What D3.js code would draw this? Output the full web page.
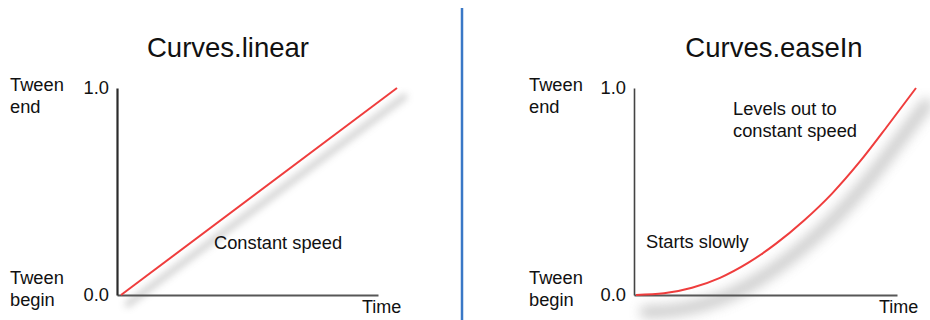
<!DOCTYPE html>
<html>
<head>
<meta charset="utf-8">
<script src="https://cdn.jsdelivr.net/npm/d3@7"></script>
<style>
  html, body { margin: 0; padding: 0; background: #ffffff; }
  svg { display: block; font-family: "Liberation Sans", Arial, Helvetica, sans-serif; }
</style>
</head>
<body>
<svg id="chart" width="930" height="320"></svg>
<script>
// ---------- data ----------
const panelTitles = ["Curves.linear", "Curves.easeIn"];
const yTickValues = [0, 1];
const yEndLabel = ["Tween", "end"];
const yBeginLabel = ["Tween", "begin"];
const xAxisLabel = "Time";

const linearTime  = [0, 1];
const linearValue = [0, 1];

const easeInTime  = [0, 0.1, 0.2, 0.3, 0.4, 0.5, 0.6, 0.7, 0.8, 0.9, 1.0];
const easeInValue = [0, 0.008, 0.035, 0.083, 0.155, 0.248, 0.36, 0.49, 0.645, 0.82, 1.0];

const linearNotes = [["Constant speed"]];
const easeInNotes = [["Levels out to", "constant speed"], ["Starts slowly"]];

const timeAxisExtent = [-0.012, 0.93];

// ---------- layout ----------
const svg = d3.select("#chart");
const defs = svg.append("defs");
defs.append("filter").attr("id", "blurS").attr("x", "-20%").attr("y", "-20%").attr("width", "140%").attr("height", "140%")
  .append("feGaussianBlur").attr("stdDeviation", 3.5);
defs.append("filter").attr("id", "blurL").attr("x", "-20%").attr("y", "-20%").attr("width", "140%").attr("height", "140%")
  .append("feGaussianBlur").attr("stdDeviation", 6);

const y = d3.scaleLinear().domain([0, 1]).range([295, 88]);

const panels = [
  {
    title: panelTitles[0], titleX: 228, labelX: 10,
    x: d3.scaleLinear().domain([0, 1]).range([121, 397]),
    axisX: 117, axisEnd: 378,
    time: linearTime, value: linearValue,
    yAxisColor: "#2b2b2b", yAxisWidth: 2.2,
    shadow: { dx: 7, dy: 9, width: 7, color: "#9a9a9a", opacity: 0.42, filter: "url(#blurS)" },
    notes: [{ lines: linearNotes[0], x: 214, y: 249 }],
    timeX: 362
  },
  {
    title: panelTitles[1], titleX: 774, labelX: 529,
    x: d3.scaleLinear().domain([0, 1]).range([636, 916]),
    axisX: 634, axisEnd: 897,
    time: easeInTime, value: easeInValue,
    yAxisColor: "#444444", yAxisWidth: 1.6,
    shadow: { dx: 10, dy: 17, width: 13, color: "#8c8c8c", opacity: 0.42, filter: "url(#blurL)" },
    notes: [{ lines: easeInNotes[0], x: 733, y: 115 }, { lines: easeInNotes[1], x: 646, y: 248 }],
    timeX: 879
  }
];

// divider
svg.append("line")
  .attr("x1", 462).attr("x2", 462).attr("y1", 8).attr("y2", 320)
  .attr("stroke", "#3a78c6").attr("stroke-width", 2.5);

panels.forEach(p => {
  const g = svg.append("g");

  // title
  g.append("text")
    .attr("x", p.titleX).attr("y", 57)
    .attr("text-anchor", "middle")
    .attr("font-size", 27.5).attr("fill", "#111")
    .text(p.title);

  // y side labels
  [[yEndLabel, 91], [yBeginLabel, 284]].forEach(([lines, by]) => {
    const t = g.append("text").attr("font-size", 18.3).attr("fill", "#111");
    lines.forEach((ln, i) => {
      t.append("tspan").attr("x", p.labelX).attr("y", by + i * 22).text(ln);
    });
  });

  const data = p.time.map((t, i) => ({ t, v: p.value[i] }));
  const line = d3.line().x(d => p.x(d.t)).y(d => y(d.v)).curve(d3.curveMonotoneX);

  // shadow
  g.append("path")
    .datum(data)
    .attr("d", line)
    .attr("transform", `translate(${p.shadow.dx},${p.shadow.dy})`)
    .attr("fill", "none")
    .attr("stroke", p.shadow.color)
    .attr("stroke-width", p.shadow.width)
    .attr("stroke-linecap", "round")
    .attr("opacity", p.shadow.opacity)
    .attr("filter", p.shadow.filter);

  // x axis
  const xAxisScale = p.x.copy().domain(timeAxisExtent).range([p.axisX, p.axisEnd]);
  const xAxisG = g.append("g")
    .attr("transform", `translate(0,${y(0)})`)
    .call(d3.axisBottom(xAxisScale).tickValues([]).tickSizeOuter(0));
  xAxisG.select(".domain").attr("stroke", "#575757").attr("stroke-width", 2);

  // y axis
  const yAxisG = g.append("g")
    .attr("transform", `translate(${p.axisX},0)`)
    .call(d3.axisLeft(y).tickValues(yTickValues).tickFormat(d3.format(".1f")).tickSize(0).tickPadding(8));
  yAxisG.select(".domain").attr("stroke", p.yAxisColor).attr("stroke-width", p.yAxisWidth);
  yAxisG.selectAll(".tick text")
    .attr("font-size", 18.3).attr("fill", "#111")
    .attr("font-family", "Liberation Sans, Arial, sans-serif");

  // curve
  g.append("path")
    .datum(data)
    .attr("d", line)
    .attr("fill", "none")
    .attr("stroke", "#ef3d3d")
    .attr("stroke-width", 2);

  // notes
  p.notes.forEach(n => {
    const t = g.append("text").attr("font-size", 18.3).attr("fill", "#111");
    n.lines.forEach((ln, i) => {
      t.append("tspan").attr("x", n.x).attr("y", n.y + i * 22).text(ln);
    });
  });

  // time label
  g.append("text")
    .attr("x", p.timeX).attr("y", 313)
    .attr("font-size", 18).attr("fill", "#111")
    .text(xAxisLabel);
});
</script>
</body>
</html>
